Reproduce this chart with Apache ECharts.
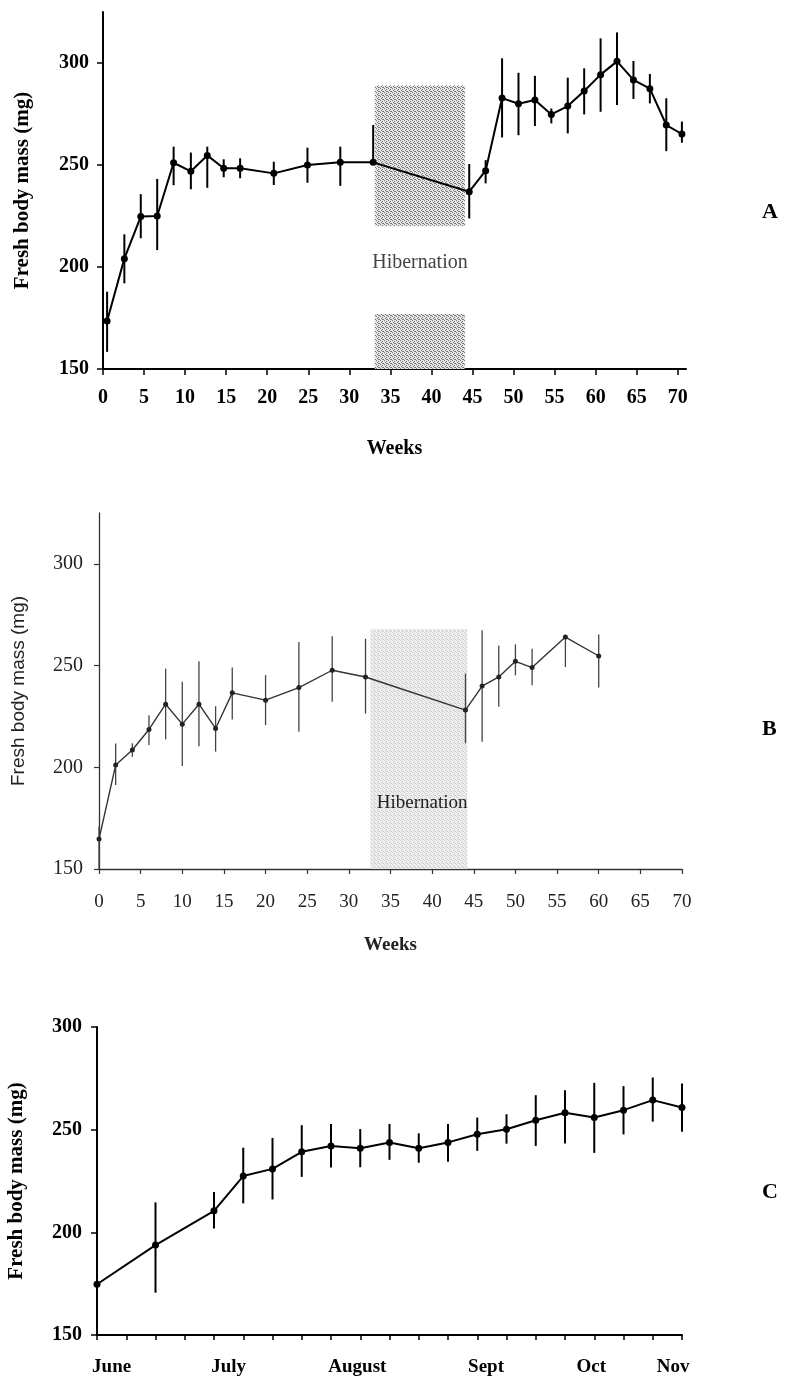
<!DOCTYPE html>
<html>
<head>
<meta charset="utf-8">
<script src="https://cdn.jsdelivr.net/npm/echarts@6/dist/echarts.min.js"></script>
<style>
  html,body{margin:0;padding:0;background:#fff;}
  #chart{width:785px;height:1383px;}
</style>
</head>
<body>
<div id="chart"></div>
<script>
// ---- panel A : weeks / fresh body mass ----
const weeksA = [0.5, 2.6, 4.6, 6.6, 8.6, 10.7, 12.7, 14.7, 16.7, 20.8, 24.9, 28.9, 32.9,
  44.6, 46.6, 48.6, 50.6, 52.6, 54.6, 56.6, 58.6, 60.6, 62.6, 64.6, 66.6, 68.6, 70.5]
const massA = [173.5, 204.1, 224.7, 225, 251.1, 246.9, 254.7, 248.4, 248.4, 245.9, 250, 251.3, 251.3,
  236.9, 247.2, 282.8, 280, 281.9, 274.8, 278.9, 286.3, 294.3, 300.8, 291.7, 287.4, 269.6, 265.2]
const upA = [14.4, 11.9, 11, 18.2, 7.9, 9.2, 4.3, 4.4, 4.9, 5.7, 8.5, 7.7, 18.3,
  13.6, 5.2, 19.5, 15.2, 11.8, 2.9, 13.9, 11.1, 17.8, 14.2, 9.3, 7.2, 13.1, 6.1]
const downA = [15.1, 12.1, 10.6, 16.7, 11, 8.8, 15.9, 4.4, 4.9, 5.7, 8.7, 11.5, 0,
  13.1, 6.2, 19.3, 15.4, 12.8, 4.4, 13.4, 11.5, 18.2, 21.4, 9.3, 7.2, 12.8, 4.3]

// ---- panel B ----
const weeksB = [0, 2, 4, 6, 8, 10, 12, 14, 16, 20, 24, 28, 32, 44, 46, 48, 50, 52, 56, 60]
const massB = [164.7, 201.1, 208.5, 218.6, 231, 221.2, 231, 219.1, 236.6, 233, 239.2, 247.7, 244.4,
  228.1, 239.9, 244.4, 252.1, 249, 264, 254.7]
const upB = [6.2, 10.6, 3.3, 7, 17.5, 20.8, 21.1, 10.9, 12.4, 12.3, 22.4, 16.7, 18.8,
  18, 27.5, 15.5, 8.3, 9.3, 0, 10.6]
const downB = [14.7, 9.8, 3.3, 7.7, 17.3, 20.6, 20.6, 11.4, 13.1, 12.3, 21.7, 15.5, 18,
  16.3, 27.3, 14.7, 6.9, 8.7, 14.7, 15.5]

// ---- panel C : weekly, June - Nov ----
const weeksC = [0, 2, 4, 5, 6, 7, 8, 9, 10, 11, 12, 13, 14, 15, 16, 17, 18, 19, 20]
const massC = [174.7, 193.8, 210.5, 227.4, 230.9, 239.2, 242, 240.9, 243.7, 240.9, 243.8, 247.8,
  250.2, 254.6, 258.2, 255.9, 259.5, 264.4, 260.8]
const upC = [0, 20.8, 9.2, 13.8, 15.1, 13, 10.7, 9.4, 9.1, 7.3, 8.9, 8.1, 7.3, 12.2, 11, 16.9, 11.7, 11, 11.7]
const downC = [0, 23.2, 8.6, 13.3, 14.9, 12.2, 10.4, 9.2, 8.4, 7, 9.4, 8.1, 7, 12.5, 14.9, 17.2, 11.8, 10.5, 11.8]

const monthLabels = ['June', 'July', 'August', 'Sept', 'Oct', 'Nov']
const monthTicks = [0.5, 4.5, 8.9, 13.3, 16.9, 19.7]

const weekTicksA = [0, 5, 10, 15, 20, 25, 30, 35, 40, 45, 50, 55, 60, 65, 70]
const massTicks = [150, 200, 250, 300]

// hibernation period (weeks)
const hibernA = [33.1, 44.1]
const hibernB = [32.6, 44.2]

const serif = "'Liberation Serif', 'DejaVu Serif', serif"

// stippled grey fill like the print
function stipple(bg, dot){
  const c = document.createElement('canvas')
  c.width = 4; c.height = 4
  const ctx = c.getContext('2d')
  ctx.fillStyle = bg
  ctx.fillRect(0,0,4,4)
  ctx.fillStyle = dot
  ;[[0,0],[2,1],[1,2],[3,3],[2,3]].forEach(p => ctx.fillRect(p[0],p[1],1,1))
  return {image:c, repeat:'repeat'}
}

function errBars(w, m, up, dn){
  return w.map((x,i) => [x, m[i], up[i], dn[i]])
}
function errSeries(idx, data, color, width){
  return {
    type:'custom',
    xAxisIndex:idx, yAxisIndex:idx,
    data:data,
    z:1,
    renderItem:(params, api) => {
      const x = api.value(0), y = api.value(1)
      const top = api.coord([x, y + api.value(2)])
      const bot = api.coord([x, y - api.value(3)])
      return {type:'line', shape:{x1:top[0], y1:top[1], x2:bot[0], y2:bot[1]},
        style:{stroke:color, lineWidth:width}}
    }
  }
}

const myChart = echarts.init(document.getElementById('chart'))
const option = {
  animation:false,
  backgroundColor:'#fff',
  title:[
    {text:'A', left:762, top:201, padding:0, textStyle:{fontFamily:serif, fontWeight:'bold', fontSize:22, color:'#000'}},
    {text:'B', left:762, top:718, padding:0, textStyle:{fontFamily:serif, fontWeight:'bold', fontSize:22, color:'#000'}},
    {text:'C', left:762, top:1181, padding:0, textStyle:{fontFamily:serif, fontWeight:'bold', fontSize:22, color:'#000'}}
  ],
  grid:[
    {left:103, top:12, width:583, height:357, outerBoundsMode:'none'},
    {left:99, top:513, width:583, height:356, outerBoundsMode:'none'},
    {left:97, top:1027, width:585, height:308, outerBoundsMode:'none'}
  ],
  xAxis:[
    {
      gridIndex:0, type:'value', min:0, max:71,
      name:'Weeks', nameLocation:'middle', nameGap:70,
      nameTextStyle:{fontFamily:serif, fontWeight:'bold', fontSize:20, color:'#000'},
      axisLine:{lineStyle:{color:'#000', width:2}},
      axisTick:{customValues:weekTicksA, length:6, lineStyle:{color:'#000', width:1.5}},
      axisLabel:{customValues:weekTicksA, margin:19, fontFamily:serif, fontWeight:'bold', fontSize:20, color:'#000'},
      splitLine:{show:false}
    },
    {
      gridIndex:1, type:'value', min:0, max:70, interval:5,
      name:'Weeks', nameLocation:'middle', nameGap:67,
      nameTextStyle:{fontFamily:serif, fontWeight:'bold', fontSize:19, color:'#222'},
      axisLine:{lineStyle:{color:'#333', width:1.3}},
      axisTick:{length:5, lineStyle:{color:'#333', width:1.2}},
      axisLabel:{margin:24, fontFamily:serif, fontSize:19, color:'#222'},
      splitLine:{show:false}
    },
    {
      gridIndex:2, type:'value', min:0, max:20, interval:1,
      axisLine:{lineStyle:{color:'#000', width:2}},
      axisTick:{length:5, lineStyle:{color:'#000', width:1.5}},
      axisLabel:{
        customValues:monthTicks, margin:23, fontFamily:serif, fontWeight:'bold', fontSize:19, color:'#000',
        formatter:(v) => monthLabels[monthTicks.indexOf(v)] || ''
      },
      splitLine:{show:false}
    }
  ],
  yAxis:[
    {
      gridIndex:0, type:'value', min:150, max:325,
      name:'Fresh body mass (mg)', nameLocation:'middle', nameGap:70,
      nameTextStyle:{fontFamily:serif, fontWeight:'bold', fontSize:21, color:'#000'},
      axisLine:{show:true, lineStyle:{color:'#000', width:2}},
      axisTick:{show:true, customValues:massTicks, length:6, lineStyle:{color:'#000', width:1.5}},
      axisLabel:{customValues:massTicks, margin:14, fontFamily:serif, fontWeight:'bold', fontSize:20, color:'#000'},
      splitLine:{show:false}
    },
    {
      gridIndex:1, type:'value', min:150, max:325,
      name:'Fresh body mass (mg)', nameLocation:'middle', nameGap:71,
      nameTextStyle:{fontFamily:"'Liberation Sans', Arial, sans-serif", fontSize:19, color:'#222'},
      axisLine:{show:true, lineStyle:{color:'#333', width:1.3}},
      axisTick:{show:true, customValues:massTicks, length:5, lineStyle:{color:'#333', width:1.2}},
      axisLabel:{customValues:massTicks, margin:16, fontFamily:serif, fontSize:20, color:'#222'},
      splitLine:{show:false}
    },
    {
      gridIndex:2, type:'value', min:150, max:300, interval:50,
      name:'Fresh body mass (mg)', nameLocation:'middle', nameGap:70,
      nameTextStyle:{fontFamily:serif, fontWeight:'bold', fontSize:21, color:'#000'},
      axisLine:{show:true, lineStyle:{color:'#000', width:2}},
      axisTick:{show:true, length:6, lineStyle:{color:'#000', width:1.5}},
      axisLabel:{margin:15, fontFamily:serif, fontWeight:'bold', fontSize:20, color:'#000'},
      splitLine:{show:false}
    }
  ],
  series:[
    errSeries(0, errBars(weeksA, massA, upA, downA), '#000', 2),
    {
      type:'line', xAxisIndex:0, yAxisIndex:0, z:3,
      data:weeksA.map((w,i) => [w, massA[i]]),
      symbol:'circle', symbolSize:7,
      itemStyle:{color:'#000'},
      lineStyle:{color:'#000', width:2},
      markArea:{
        silent:true,
        itemStyle:{color:stipple('#e4e4e4', '#7a7a7a')},
        data:[
          [{xAxis:hibernA[0], yAxis:220}, {xAxis:hibernA[1], yAxis:289}],
          [{xAxis:hibernA[0], yAxis:150}, {xAxis:hibernA[1], yAxis:177}]
        ]
      },
      markPoint:{
        silent:true, symbol:'rect', symbolSize:1,
        itemStyle:{color:'rgba(0,0,0,0)'},
        label:{show:true, position:'inside', formatter:'Hibernation', fontFamily:serif, fontSize:20, color:'#444'},
        data:[{coord:[38.6, 202]}]
      }
    },
    errSeries(1, errBars(weeksB, massB, upB, downB), '#444', 1.3),
    {
      type:'line', xAxisIndex:1, yAxisIndex:1, z:3,
      data:weeksB.map((w,i) => [w, massB[i]]),
      symbol:'circle', symbolSize:5,
      itemStyle:{color:'#222'},
      lineStyle:{color:'#333', width:1.4},
      markArea:{
        silent:true,
        itemStyle:{color:stipple('#efefef', '#cfcfcf')},
        data:[
          [{xAxis:hibernB[0], yAxis:150}, {xAxis:hibernB[1], yAxis:268}]
        ]
      },
      markPoint:{
        silent:true, symbol:'rect', symbolSize:1,
        itemStyle:{color:'rgba(0,0,0,0)'},
        label:{show:true, position:'inside', formatter:'Hibernation', fontFamily:serif, fontSize:19, color:'#222'},
        data:[{coord:[38.8, 182.4]}]
      }
    },
    errSeries(2, errBars(weeksC, massC, upC, downC), '#000', 2),
    {
      type:'line', xAxisIndex:2, yAxisIndex:2, z:3,
      data:weeksC.map((w,i) => [w, massC[i]]),
      symbol:'circle', symbolSize:7,
      itemStyle:{color:'#000'},
      lineStyle:{color:'#000', width:2}
    }
  ]
}
myChart.setOption(option)
</script>
</body>
</html>
